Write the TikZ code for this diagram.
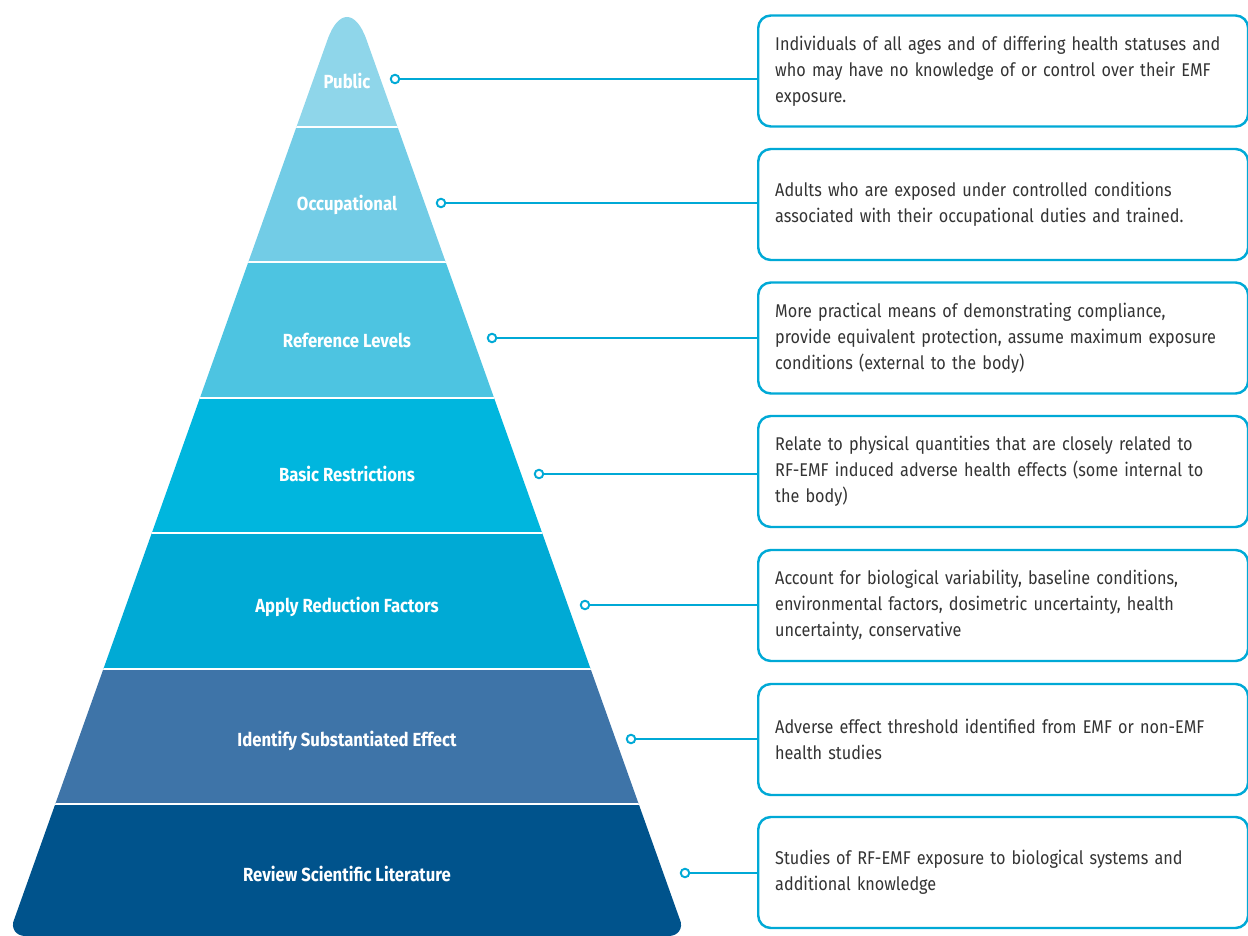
\documentclass[tikz,border=0pt]{standalone}
\usepackage{fontspec}
\setmainfont{Fira Sans}[FakeStretch=0.88]

\definecolor{pubfill}{HTML}{8FD6EA}
\definecolor{occfill}{HTML}{72CCE6}
\definecolor{reffill}{HTML}{4DC4E1}
\definecolor{basicfill}{HTML}{00B6DE}
\definecolor{applyfill}{HTML}{00AAD5}
\definecolor{identfill}{HTML}{3E74A8}
\definecolor{reviewfill}{HTML}{00538C}
\definecolor{linecyan}{HTML}{00A9D6}
\definecolor{notegray}{HTML}{333333}

\begin{document}
\begin{tikzpicture}[
  x=0.02cm, y=-0.02cm,
  level/.style={text=white, font=\bfseries\fontsize{10.8}{12}\selectfont},
  dot/.style={circle, draw=linecyan, fill=white, line width=1.1pt, inner sep=0pt, minimum size=0.17cm},
  note/.style={draw=linecyan, line width=1.4pt, rounded corners=0.25cm, anchor=west,
    minimum width=9.8cm, minimum height=2.22cm, text width=9.12cm, inner xsep=0.34cm,
    align=left, text=notegray, font=\fontsize{10.5}{14.7}\selectfont},
  wire/.style={draw=linecyan, line width=1.1pt}
]
\useasboundingbox (0,0) rectangle (1248,936);

% Pyramid: rounded apex, slightly rounded base corners
\begin{scope}
  \clip[rounded corners=33] (347,-15) -- (851,1400) -- (-157,1400) -- cycle;
  \clip[rounded corners=10] (347,-15) -- (686,936) -- (8,936) -- cycle;
  \fill[pubfill] (0,-20) rectangle (700,127);
  \fill[occfill] (0,127) rectangle (700,262);
  \fill[reffill] (0,262) rectangle (700,398);
  \fill[basicfill] (0,398) rectangle (700,533);
  \fill[applyfill] (0,533) rectangle (700,669);
  \fill[identfill] (0,669) rectangle (700,804);
  \fill[reviewfill] (0,804) rectangle (700,950);
  % thin white seams between the layers
  \draw[white, line width=0.6pt] (0,127) -- (700,127) (0,262) -- (700,262)
    (0,398) -- (700,398) (0,533) -- (700,533) (0,669) -- (700,669) (0,804) -- (700,804);
\end{scope}

% Layer labels
\node[level] (pub) at (347,81) {Public};
\node[level] (occ) at (347,205) {Occupational};
\node[level] (ref) at (347,340) {Reference Levels};
\node[level] (basic) at (347,474) {Basic Restrictions};
\node[level] (apply) at (347,607) {Apply Reduction Factors};
\node[level] (ident) at (347,741) {Identify Substantiated Effect};
\node[level] (review) at (347,874) {Review Scientific Literature};

% Markers on the right flank
\node[dot] (pubdot) at (395,79) {};
\node[dot] (occdot) at (441,203) {};
\node[dot] (refdot) at (492,338) {};
\node[dot] (basicdot) at (539,474) {};
\node[dot] (applydot) at (585,605) {};
\node[dot] (identdot) at (631,739) {};
\node[dot] (reviewdot) at (685,873) {};

% Description boxes
\node[note] (pubbox) at (757,71) {Individuals of all ages and of differing health statuses and\\ who may have no knowledge of or control over their EMF\\ exposure.};
\node[note] (occbox) at (757,204.5) {Adults who are exposed under controlled conditions\\ associated with their occupational duties and trained.};
\node[note] (refbox) at (757,338) {More practical means of demonstrating compliance,\\ provide equivalent protection, assume maximum exposure\\ conditions (external to the body)};
\node[note] (basicbox) at (757,471.5) {Relate to physical quantities that are closely related to\\ RF-EMF induced adverse health effects (some internal to\\ the body)};
\node[note] (applybox) at (757,605.5) {Account for biological variability, baseline conditions,\\ environmental factors, dosimetric uncertainty, health\\ uncertainty, conservative};
\node[note] (identbox) at (757,739.5) {Adverse effect threshold identified from EMF or non-EMF\\ health studies};
\node[note] (reviewbox) at (757,872.5) {Studies of RF-EMF exposure to biological systems and\\ additional knowledge};

% Leaders from markers to boxes
\draw[wire] (pubdot) -- (pubdot -| pubbox.west);
\draw[wire] (occdot) -- (occdot -| occbox.west);
\draw[wire] (refdot) -- (refdot -| refbox.west);
\draw[wire] (basicdot) -- (basicdot -| basicbox.west);
\draw[wire] (applydot) -- (applydot -| applybox.west);
\draw[wire] (identdot) -- (identdot -| identbox.west);
\draw[wire] (reviewdot) -- (reviewdot -| reviewbox.west);

\end{tikzpicture}
\end{document}
